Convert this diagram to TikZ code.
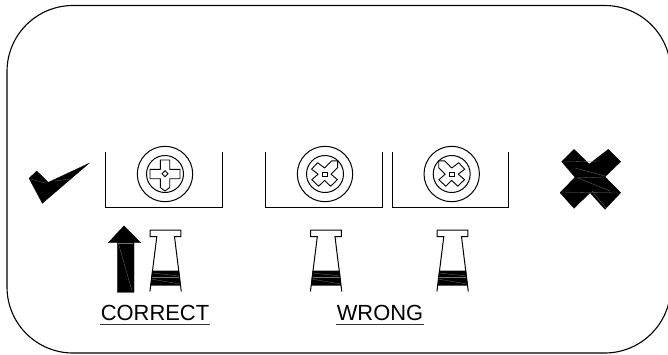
\documentclass[tikz,border=0pt]{standalone}
\usepackage{fontspec}
\setmainfont{Liberation Sans}
\tikzset{
  thinline/.style={line width=1pt,black},
  frameline/.style={line width=1.1pt,black},
  solidmark/.style={fill=black,draw=black,line width=0.3pt,line join=miter},
  gap/.style={black!55,line width=0.3pt},
  lbl/.style={font=\fontsize{21.9}{24}\selectfont,inner sep=0pt,anchor=base},
  rule/.style={line width=1.2pt,black!80}
}
\newcommand{\screwbox}[2]{%
  \draw[thinline] (#1-59.5,#2-22) -- (#1-59.5,#2+33) -- (#1+57,#2+33) -- (#1+57,#2-22);
  \draw[thinline] (#1,#2) circle[radius=27.7];
  \draw[thinline] (#1,#2) circle[radius=18.5];
}
\newcommand{\pinshape}[1]{%
  \begin{scope}[xshift=#1pt]
    \fill[black] (-13.4,270.5) -- (13.6,270.5) -- (15.2,285.5) -- (-15,285.5) -- cycle;
    \draw[gap] (-13.6,273) -- (14,276);
    \draw[gap] (-14.5,279) -- (14.6,284);
    \draw[gap] (-14,277) -- (14,277);
    \draw[thinline] (-15.3,230) -- (15.3,230) -- (15.3,236.7) -- (9,236.7) -- (15.8,291.5);
    \draw[thinline] (-15.3,230) -- (-15.3,236.7) -- (-8.7,236.7) -- (-15.6,291.5);
  \end{scope}
}
\begin{document}
\begin{tikzpicture}[x=1pt,y=-1pt]
\useasboundingbox (0,0) rectangle (668,354);
\fill[white] (0,0) rectangle (668,354);
% frame
\draw[frameline,rounded corners=66pt] (7,5.5) rectangle (670.7,353);
% check mark
\fill[solidmark] (29,178.3) -- (36.7,171) -- (48.3,182.3) -- (89,163.3) -- (42.3,203.3) -- cycle;
\draw[gap] (30,179) -- (45,183);
\draw[gap] (55,181) -- (70,179);
% screw boxes
\screwbox{165}{174}
\screwbox{325}{174}
\screwbox{451.7}{174}
% plus recess
\draw[thinline,line width=0.9pt,line join=round]
  (160.3,160) -- (169.7,160) -- (169.7,169.3) -- (180,169.3) -- (180,178.7) -- (169.7,178.7)
  -- (169.7,187.5) -- (165,191) -- (160.3,187.5) -- (160.3,178.7) -- (150,178.7) -- (150,169.3)
  -- (160.3,169.3) -- cycle;
\draw[thinline,line width=0.8pt] (165,170.8) -- (168,173.8) -- (165,176.8) -- (162,173.8) -- cycle;
% x recess, box two
\begin{scope}[shift={(324.6,174.2)}]
  \draw[thinline,line width=0.9pt,line join=round]
   (0,-6.2) -- (7,-13.3) -- (13,-13.3) -- (13,-6.5) -- (6.5,0) -- (12.8,5.5) -- (6,12) -- (0,6.2)
   -- (-6,12) -- (-12.8,5.5) -- (-6.5,0) -- (-13,-5) -- (-7,-11.5) -- cycle;
  \draw[thinline,line width=0.8pt] (-2.3,-2) rectangle (2.3,2);
\end{scope}
% x recess, box three
\begin{scope}[shift={(451.7,174.2)}]
  \draw[thinline,line width=0.9pt,line join=round]
   (0,-6.2) -- (7,-11.5) -- (13,-5) -- (6.5,0) -- (12.8,5.5) -- (6,12) -- (0,6.2)
   -- (-6,12) -- (-12.8,5.5) -- (-6.5,0) -- (-13,-6.5) -- (-13,-13.3) -- (-7,-13.3) -- cycle;
  \draw[thinline,line width=0.8pt] (-2.3,-2) rectangle (2.3,2);
\end{scope}
% arrow
\fill[solidmark] (124,225.8) -- (140.7,242.7) -- (134,242.7) -- (134,292.3) -- (117.3,292.3) -- (117.3,242.7) -- (108.3,242.7) -- cycle;
\draw[gap] (118.3,242.9) -- (133,242.9);
\draw[gap] (118.3,243) -- (132,291);
% pins
\pinshape{165.5}
\pinshape{326}
\pinshape{452.5}
% labels
\node[lbl] (correct) at (155,320) {CORRECT};
\node[lbl] (wrong) at (380,320) {WRONG};
\draw[rule] (100,324.5) -- (210,324.5);
\draw[rule] (336,324.5) -- (424,324.5);
% cross
\fill[solidmark] (561.7,161.7) -- (574,149.3) -- (589.3,164) -- (608.3,149.3) -- (620.7,161.7) -- (605,176.7)
  -- (620.7,192.7) -- (605,209.3) -- (590,192.7) -- (574,208.3) -- (560,192.7) -- (575,177.3) -- cycle;
\draw[gap] (563,162) -- (600,161);
\draw[gap] (575,168) -- (605,176);
\draw[gap] (575,178) -- (604,177);
\draw[gap] (578,178) -- (610,191);
\draw[gap] (561,192) -- (618,193);
\draw[gap] (592,191) -- (606,208);
\end{tikzpicture}
\end{document}
